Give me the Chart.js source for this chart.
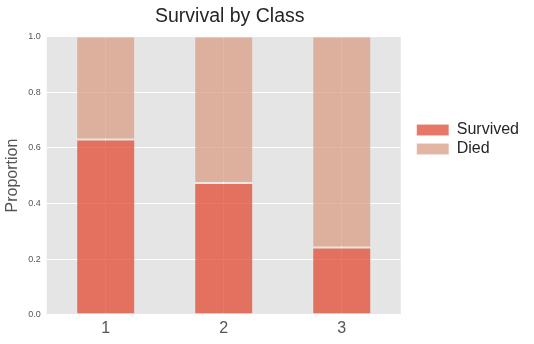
<!DOCTYPE html>
<html>
<head>
<meta charset="utf-8">
<script src="https://cdn.jsdelivr.net/npm/chart.js@4"></script>
<style>
  html, body { margin: 0; padding: 0; background: #fff; }
  #wrap { width: 534px; height: 344px; }
</style>
</head>
<body>
<div id="wrap"><canvas id="chart"></canvas></div>
<script>
const classes = ["1", "2", "3"];
const survived = [0.63, 0.473, 0.242];
const died = survived.map(v => 1 - v);
const yTicks = [0.0, 0.2, 0.4, 0.6, 0.8, 1.0];

// grey panel behind the plot, like the ggplot style
const panelBg = {
  id: "panelBg",
  beforeDraw(chart) {
    const { ctx, chartArea: a } = chart;
    ctx.save();
    ctx.fillStyle = "#e5e5e5";
    ctx.fillRect(a.left, a.top, a.right - a.left, a.bottom - a.top);
    ctx.restore();
  }
};

// nudge legend and title a little, matplotlib puts them there
const nudge = {
  id: "nudge",
  afterLayout(chart) {
    const lg = chart.legend;
    if (lg) {
      lg.left += 13; lg.right += 13;
      lg.top -= 33; lg.bottom -= 33;
    }
    const tb = chart.titleBlock;
    if (tb) { tb.left += 6; tb.right += 6; }
  }
};

new Chart(document.getElementById("chart"), {
  type: "bar",
  data: {
    labels: classes,
    datasets: [
      {
        label: "Survived",
        data: survived,
        backgroundColor: "rgba(226,74,51,0.75)",
        borderColor: "rgba(255,255,255,0.15)",
        borderWidth: 1,
        borderSkipped: false,
        barPercentage: 0.5,
        categoryPercentage: 1
      },
      {
        label: "Died",
        data: died,
        backgroundColor: "rgba(216,158,132,0.75)",
        borderColor: "rgba(255,255,255,0.15)",
        borderWidth: 1,
        borderSkipped: false,
        barPercentage: 0.5,
        categoryPercentage: 1
      }
    ]
  },
  options: {
    responsive: true,
    maintainAspectRatio: false,
    animation: false,
    layout: { padding: { left: -1, right: 18, top: 3, bottom: 2 } },
    plugins: {
      title: {
        display: true,
        text: "Survival by Class",
        fullSize: false,
        color: "#262626",
        font: { family: "Liberation Sans, Arial, sans-serif", size: 19.5, weight: "normal" },
        padding: { top: 2, bottom: 8 }
      },
      legend: {
        position: "right",
        labels: {
          boxWidth: 32,
          boxHeight: 11,
          padding: 3,
          color: "#262626",
          font: { family: "Liberation Sans, Arial, sans-serif", size: 16 }
        }
      },
      tooltip: { enabled: false }
    },
    scales: {
      x: {
        stacked: true,
        border: { display: false },
        grid: { color: "#ffffff", lineWidth: 1, offset: false, drawTicks: false },
        ticks: {
          color: "#555555",
          padding: 4,
          font: { family: "Liberation Sans, Arial, sans-serif", size: 16 }
        }
      },
      y: {
        stacked: true,
        min: 0,
        max: 1,
        border: { display: false },
        grid: { color: "#ffffff", lineWidth: 1, drawTicks: false },
        afterBuildTicks(scale) {
          scale.ticks = yTicks.map(v => ({ value: v }));
        },
        ticks: {
          color: "#555555",
          padding: 6,
          callback: v => v.toFixed(1),
          font: { family: "Liberation Sans, Arial, sans-serif", size: 9 }
        },
        title: {
          display: true,
          text: "Proportion",
          color: "#555555",
          padding: { top: 4, bottom: 0 },
          font: { family: "Liberation Sans, Arial, sans-serif", size: 16 }
        }
      }
    }
  },
  plugins: [panelBg, nudge]
});
</script>
</body>
</html>
